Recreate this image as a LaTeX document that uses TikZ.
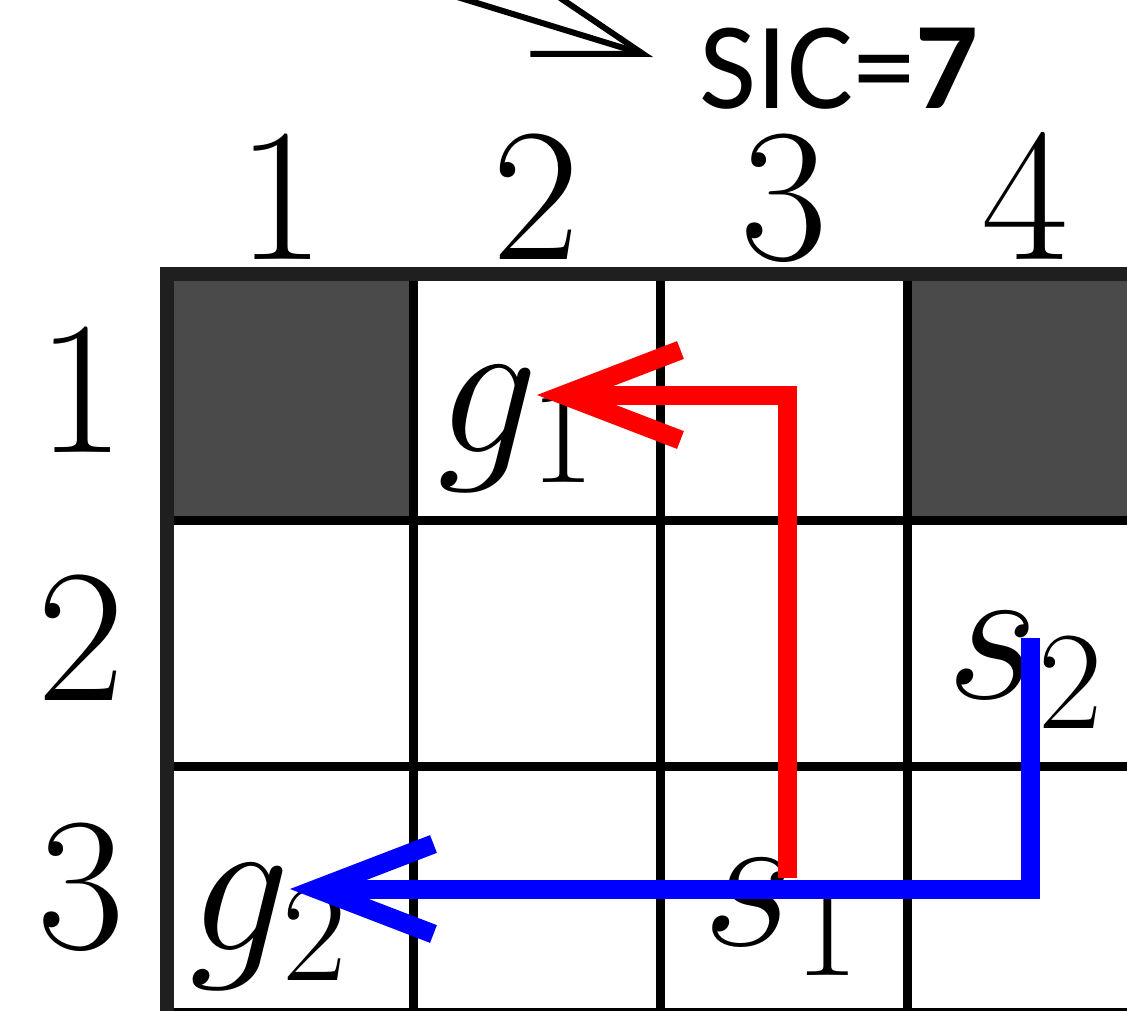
\RequirePackage{fix-cm}
\documentclass[tikz,border=0pt]{standalone}
\usepackage{fontspec}
\newfontfamily\carlito{Carlito}
\usetikzlibrary{arrows.meta}
\definecolor{darkcell}{HTML}{4A4A4A}
\definecolor{pathred}{HTML}{FF0000}
\definecolor{pathblue}{HTML}{0000FF}
\tikzset{
  lbl/.style={font=\fontsize{190}{200}\selectfont, inner sep=0pt, anchor=base},
  celltext/.style={font=\fontsize{200}{215}\selectfont, inner sep=0pt, anchor=base west},
  gridline/.style={line width=9pt, black},
  borderline/.style={line width=14pt, black!88},
  route/.style={line width=19pt, line join=miter, line cap=butt},
  routetip/.style={-{Straight Barb[length=117pt,width=90pt]}},
}
\begin{document}
\begin{tikzpicture}[x=1pt,y=-1pt]
\useasboundingbox (0,0) rectangle (1127,1010);
\clip (0,0) rectangle (1127,1010);
% dark cells
\fill[darkcell] (167,274) rectangle (413,520);
\fill[darkcell] (907,274) rectangle (1160,520);
% grid
\foreach \x in {413,660,907} \draw[gridline] (\x,274) -- (\x,1020);
\foreach \y in {520,766,1012} \draw[gridline] (167,\y) -- (1160,\y);
\draw[borderline] (1160,274) -- (167,274) -- (167,1020);
% labels
\node[lbl] (c1) at (281,259) {1};
\node[lbl] (c2) at (536,259) {2};
\node[lbl] (c3) at (784,259) {3};
\node[lbl] (c4) at (1025,259) {4};
\node[lbl] (r1lab) at (81,452) {1};
\node[lbl] (r2lab) at (81,700) {2};
\node[lbl] (r3lab) at (81,948) {3};
% cell texts
\node[celltext] (g1) at (437,452) {$g_1$};
\node[celltext] (g2) at (189,950) {$g_2$};
\node[celltext] (s1) at (702,945) {$s_1$};
\node[celltext] (s2) at (946,698) {$s_2$};
% SIC
\node[inner sep=0pt, anchor=base west, font=\carlito\fontsize{124}{130}\selectfont] (sic) at (699,108) {SIC=\textbf{7}};
% top arrow
\coordinate (a0) at (366,-31);
\coordinate (a1) at (653,57);
\draw[line width=6pt, -{Straight Barb[length=108pt,width=66pt]}] (a0) -- (a1);
% routes
\coordinate (r0) at (787,878);
\coordinate (rg) at (537,395);
\draw[route, pathred, routetip] (r0) |- (rg);
\coordinate (b0) at (1030,638);
\coordinate (bg) at (290,889);
\draw[route, pathblue, routetip] (b0) |- (bg);
\end{tikzpicture}
\end{document}
